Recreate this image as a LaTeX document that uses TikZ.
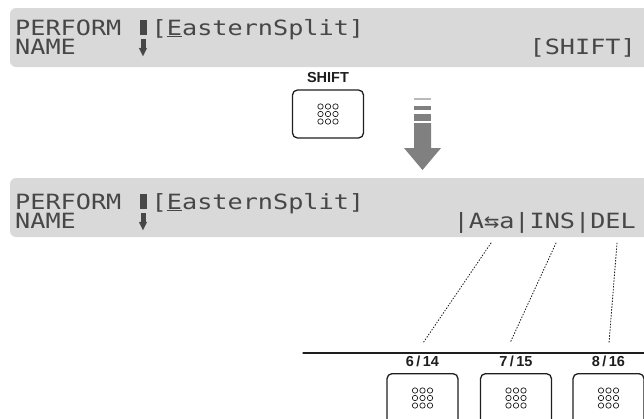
\documentclass[tikz,border=0pt]{standalone}
\usepackage{fontspec}
\setmainfont{Liberation Sans}
\newfontfamily\lcdfont[FakeStretch=1.2]{DejaVu Sans Mono}
\newfontfamily\symfont{DejaVu Sans}
\usetikzlibrary{positioning}
\definecolor{lcdgray}{HTML}{D9D9D9}
\definecolor{lcdink}{HTML}{474747}
\definecolor{arrowgray}{HTML}{808080}
\definecolor{keyink}{HTML}{1E1E1E}

% puntos de la tecla (3x3)
\newcommand{\keydots}[1]{%
  \foreach \dx in {-7.5,0,7.5}
    \foreach \dy in {-7.5,0,7.5}
      \draw[keyink, line width=0.7pt] ([shift={(\dx,\dy)}]#1) circle (2.7pt);}
% cursor y flecha del visor
\newcommand{\lcdcursor}{\rlap{\hspace{3pt}\rule{7pt}{15.3pt}}\phantom{M}}
\newcommand{\lcddown}{\rlap{\hspace{4.5pt}\rule[5pt]{5pt}{10.3pt}}%
  \rlap{\hspace{2.2pt}\raisebox{-1.5pt}{\symfont\fontsize{11pt}{11pt}\selectfont ▼}}\phantom{M}}

\begin{document}
\begin{tikzpicture}[x=1pt, y=-1pt, line cap=round, line join=round,
    lcd/.style={fill=lcdgray, rounded corners=6pt},
    lcdline/.style={inner sep=0pt, text=lcdink, font=\lcdfont\fontsize{21pt}{21pt}\selectfont},
    keybox/.style={draw=keyink, line width=1.3pt, rounded corners=5pt, minimum width=71pt},
    keylabel/.style={inner sep=0pt, text=keyink, font=\bfseries\fontsize{14.5pt}{14.5pt}\selectfont},
    guide/.style={draw=keyink, dotted, line width=0.9pt}]

      \clip (0,0) rectangle (644,418);

      % Pantalla superior
      \fill[lcd] (10,8) rectangle (660,67);
      \node[lcdline, anchor=base west] (Perf1) at (15,35) {PERFORM \lcdcursor[\underline{E}asternSplit]};
      \node[lcdline, anchor=base west] (Name1) at (15,54) {NAME\ \ \ \ \lcddown};
      \node[lcdline, anchor=base east] (Soft1) at (636,54) {[SHIFT]};

      % Tecla SHIFT
      \node[keybox, minimum height=48pt] (ShiftKey) at (328,114) {};
      \node[keylabel, above=7pt of ShiftKey] (ShiftLbl) {SHIFT};
      \keydots{ShiftKey.center}

      % Flecha gris
      \fill[arrowgray!55] (414,97.5) rectangle (431,100);
      \fill[arrowgray] (414,105.5) rectangle (431,110);
      \fill[arrowgray] (414,114) rectangle (431,121);
      \fill[arrowgray] (414,123) -- (431,123) -- (431,148) -- (441,148)
        -- (422.5,170) -- (404,148) -- (414,148) -- cycle;

      % Pantalla inferior
      \fill[lcd] (10,178) rectangle (660,237);
      \node[lcdline, anchor=base west] (Perf2) at (15,209) {PERFORM \lcdcursor[\underline{E}asternSplit]};
      \node[lcdline, anchor=base west] (Name2) at (15,228) {NAME\ \ \ \ \lcddown};
      \node[lcdline, anchor=base east] (Soft2) at (636,228) {|A⇆a|INS|DEL};

      % Teclas de funcion
      \draw[keyink, line width=1.2pt] (303,353) -- (660,353);
      \node[keybox, minimum height=60pt, anchor=north] (KeyA) at (422.5,373) {};
      \node[keybox, minimum height=60pt, anchor=north] (KeyB) at (516,373) {};
      \node[keybox, minimum height=60pt, anchor=north] (KeyC) at (608.5,373) {};
      \node[keylabel, above=6pt of KeyA] (LblA) {6\,/\,14};
      \node[keylabel, above=6pt of KeyB] (LblB) {7\,/\,15};
      \node[keylabel, above=6pt of KeyC] (LblC) {8\,/\,16};
      \coordinate (DotsA) at ([yshift=-25pt]KeyA.north);
      \coordinate (DotsB) at ([yshift=-25pt]KeyB.north);
      \coordinate (DotsC) at ([yshift=-25pt]KeyC.north);
      \keydots{DotsA}
      \keydots{DotsB}
      \keydots{DotsC}

      % Lineas de puntos
      \coordinate (TopA) at (491,243);
      \coordinate (TopB) at (556,243);
      \coordinate (TopC) at (617,243);
      \coordinate (EndA) at (423,343);
      \coordinate (EndB) at (510,343);
      \coordinate (EndC) at (609,343);
      \draw[guide] (TopA) -- (EndA);
      \draw[guide] (TopB) -- (EndB);
      \draw[guide] (TopC) -- (EndC);
    \end{tikzpicture}
\end{document}
